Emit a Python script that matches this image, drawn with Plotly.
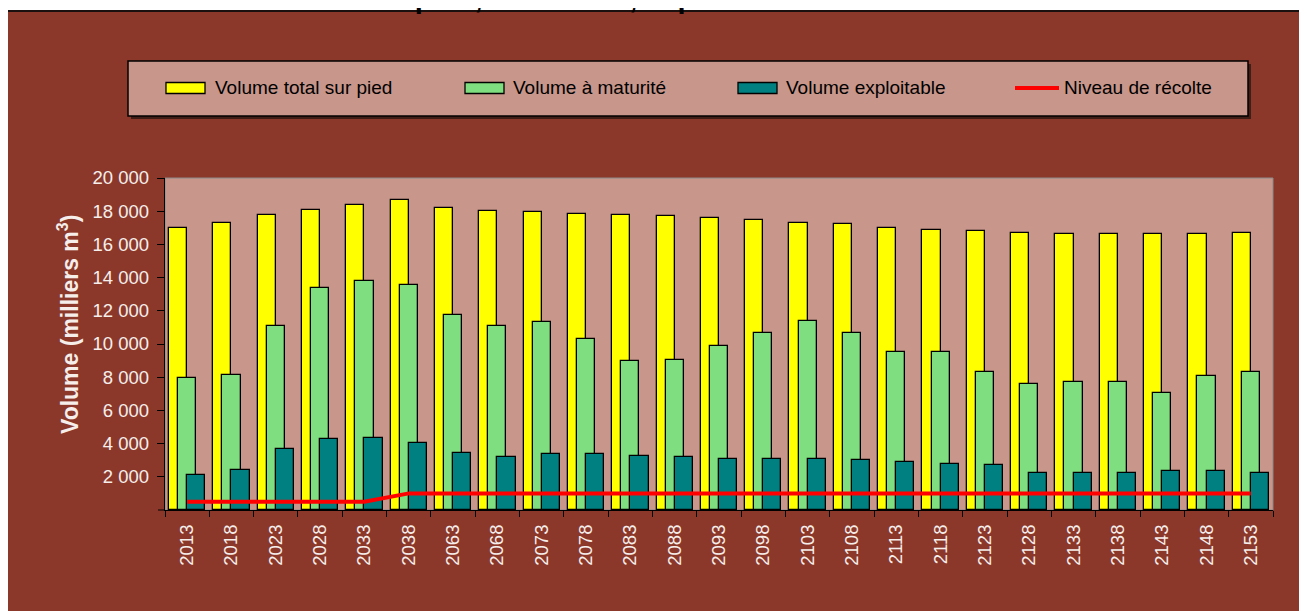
import plotly.graph_objects as go

years = ["2013", "2018", "2023", "2028", "2033", "2038", "2063", "2068", "2073",
         "2078", "2083", "2088", "2093", "2098", "2103", "2108", "2113", "2118",
         "2123", "2128", "2133", "2138", "2143", "2148", "2153"]
vol_total = [17000, 17300, 17800, 18100, 18400, 18700, 18200, 18000, 17950,
             17850, 17750, 17700, 17600, 17500, 17300, 17200, 17000, 16850,
             16800, 16700, 16600, 16600, 16600, 16600, 16700]
vol_maturite = [7950, 8150, 11100, 13350, 13800, 13550, 11750, 11100, 11300,
                10300, 8950, 9050, 9850, 10650, 11400, 10650, 9500, 9500,
                8300, 7600, 7700, 7700, 7050, 8050, 8300]
vol_exploitable = [2100, 2380, 3650, 4250, 4350, 4050, 3450, 3200, 3350,
                   3350, 3250, 3200, 3100, 3100, 3100, 3000, 2900, 2800,
                   2700, 2250, 2200, 2250, 2350, 2350, 2200]
niveau_recolte = [500, 500, 500, 500, 500, 1000, 1000, 1000, 1000,
                  1000, 1000, 1000, 1000, 1000, 1000, 1000, 1000, 1000,
                  1000, 1000, 1000, 1000, 1000, 1000, 1000]
y_tick_vals = [2000, 4000, 6000, 8000, 10000, 12000, 14000, 16000, 18000, 20000]
y_tick_text = ["2 000", "4 000", "6 000", "8 000", "10 000", "12 000",
               "14 000", "16 000", "18 000", "20 000"]
legend_names = ["Volume total sur pied", "Volume à maturité", "Volume exploitable", "Niveau de récolte"]
title_text = "Volume sur pied, à maturité, exploitable et niveau de récolte"
y_title = "Volume (milliers m<sup>3</sup>)"

OFF = 8  # page offset of the figure (body margin)
W, H = 1307, 611
# plot area in page pixels
L, R, T, B = 165, 1273, 178, 510
FONT = "Arial, Liberation Sans, sans-serif"
BROWN = "#8B382B"
PINK = "#C8968A"
YELLOW = "#FFFF00"
GREEN = "#7FDE7F"
TEAL = "#008080"
LIGHT = "#F6EEEA"


def px(x):
    return (x - L) / (R - L)


def py(y):
    return (B - y) / (B - T)


fig = go.Figure()
bw = 0.41
for vals, col, off, name in [(vol_total, YELLOW, -0.41, legend_names[0]),
                             (vol_maturite, GREEN, -0.205, legend_names[1]),
                             (vol_exploitable, TEAL, 0.0, legend_names[2])]:
    fig.add_trace(go.Bar(x=years, y=vals, name=name, width=bw, offset=off,
                         marker=dict(color=col, line=dict(color="#000000", width=1.3)),
                         showlegend=False))
fig.add_trace(go.Scatter(x=years, y=niveau_recolte, name=legend_names[3], mode="lines",
                         line=dict(color="#FF0000", width=4), showlegend=False))

shapes = []
# chart background
shapes.append(dict(type="rect", xref="paper", yref="paper", x0=px(7), x1=px(1330),
                   y0=py(11), y1=py(640), fillcolor=BROWN,
                   line=dict(color="#1a1010", width=2), layer="below"))
# plot area
shapes.append(dict(type="rect", xref="paper", yref="paper", x0=0, x1=1, y0=0, y1=1,
                   fillcolor=PINK, line=dict(color="#8a8a8a", width=1), layer="below"))
# corner tick at 0
shapes.append(dict(type="line", xref="paper", yref="paper", x0=px(158), x1=px(165),
                   y0=0, y1=0, line=dict(color="#000000", width=1)))
# legend shadow and box
shapes.append(dict(type="rect", xref="paper", yref="paper", x0=px(131), x1=px(1251),
                   y0=py(64), y1=py(119), fillcolor="#3e1e17",
                   line=dict(width=0), layer="below"))
shapes.append(dict(type="rect", xref="paper", yref="paper", x0=px(128), x1=px(1248),
                   y0=py(61), y1=py(116), fillcolor=PINK,
                   line=dict(color="#000000", width=1.5), layer="below"))
LY = 88
for x0, x1, col in [(166, 205, YELLOW), (465, 504, GREEN), (738, 777, TEAL)]:
    shapes.append(dict(type="rect", xref="paper", yref="paper", x0=px(x0), x1=px(x1),
                       y0=py(LY - 5.5), y1=py(LY + 5.5), fillcolor=col,
                       line=dict(color="#000000", width=1.3)))
shapes.append(dict(type="line", xref="paper", yref="paper", x0=px(1015), x1=px(1059),
                   y0=py(LY), y1=py(LY), line=dict(color="#FF0000", width=4)))

annotations = []
for xt, txt in zip([213, 511, 784, 1062], legend_names):
    annotations.append(dict(xref="paper", yref="paper", x=px(xt), y=py(LY),
                            xanchor="left", yanchor="middle", text=txt, showarrow=False,
                            font=dict(family=FONT, size=19, color="#000000")))
annotations.append(dict(xref="paper", yref="paper", x=px(68), y=py(325),
                        xanchor="center", yanchor="middle", text="<b>" + y_title + "</b>",
                        textangle=-90, showarrow=False,
                        font=dict(family=FONT, size=23, color=LIGHT)))
annotations.append(dict(xref="paper", yref="paper", x=px(249), y=py(16),
                        xanchor="left", yanchor="bottom", text="<b>" + title_text + "</b>",
                        showarrow=False, font=dict(family=FONT, size=29, color="#000000")))

fig.update_layout(
    width=W, height=H,
    margin=dict(l=L - OFF, r=W - (R - OFF), t=T - OFF, b=H - (B - OFF), pad=0),
    paper_bgcolor="#FFFFFF", plot_bgcolor=PINK,
    barmode="overlay", bargap=0,
    shapes=shapes, annotations=annotations,
    font=dict(family=FONT, color=LIGHT),
    xaxis=dict(type="category", range=[-0.5, 24.5], tickson="boundaries",
               ticks="outside", ticklen=6, tickcolor="#000000", tickwidth=1,
               showline=True, linecolor="#000000", linewidth=1.3, showgrid=False,
               tickangle=-90, ticklabelstandoff=6,
               tickfont=dict(family=FONT, size=18.5, color=LIGHT),
               zeroline=False),
    yaxis=dict(range=[0, 20000], tickvals=y_tick_vals, ticktext=y_tick_text,
               ticks="outside", ticklen=7, tickcolor="#000000", tickwidth=1,
               showline=True, linecolor="#000000", linewidth=1.3, showgrid=False,
               ticklabelstandoff=4,
               zeroline=False, tickfont=dict(family=FONT, size=18.5, color=LIGHT)),
)

fig.write_html("out.html")
